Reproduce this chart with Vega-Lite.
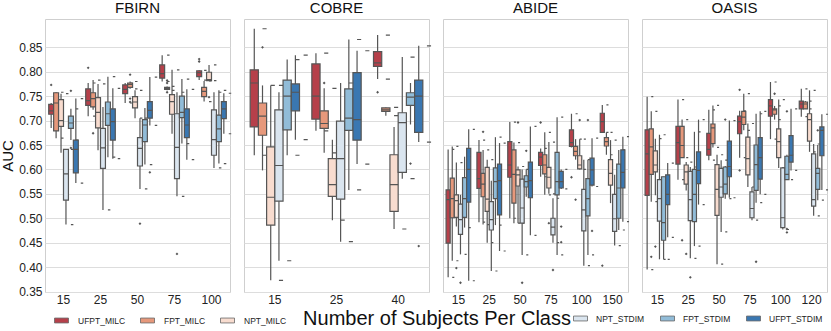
{
  "$schema": "https://vega.github.io/schema/vega-lite/v6.json",
  "padding": {"left": 0, "top": 1, "right": 0, "bottom": 0},
  "background": "white",
  "bounds": "flush",
  "config": {
    "font": "Liberation Sans",
    "view": {"stroke": "#cfcfcf", "strokeWidth": 1},
    "axis": {"labelFont": "Liberation Sans", "titleFont": "Liberation Sans", "labelColor": "#222222", "titleColor": "#111111"}
  },
  "data": {"values": [
    {"k":"b","d":"FBIRN","n":15,"m":"UFPT_MILC","lo":0.685,"q1":0.713,"md":0.72,"q3":0.733,"hi":0.736},
    {"k":"b","d":"FBIRN","n":15,"m":"FPT_MILC","lo":0.664,"q1":0.679,"md":0.736,"q3":0.757,"hi":0.758},
    {"k":"b","d":"FBIRN","n":15,"m":"NPT_MILC","lo":0.634,"q1":0.688,"md":0.70,"q3":0.743,"hi":0.755},
    {"k":"b","d":"FBIRN","n":15,"m":"NPT_STDIM","lo":0.487,"q1":0.537,"md":0.591,"q3":0.641,"hi":0.641},
    {"k":"b","d":"FBIRN","n":15,"m":"FPT_STDIM","lo":0.66,"q1":0.684,"md":0.695,"q3":0.709,"hi":0.724},
    {"k":"b","d":"FBIRN","n":15,"m":"UFPT_STDIM","lo":0.572,"q1":0.593,"md":0.641,"q3":0.66,"hi":0.745},
    {"k":"b","d":"FBIRN","n":25,"m":"UFPT_MILC","lo":0.709,"q1":0.731,"md":0.741,"q3":0.765,"hi":0.777},
    {"k":"b","d":"FBIRN","n":25,"m":"FPT_MILC","lo":0.722,"q1":0.728,"md":0.745,"q3":0.757,"hi":0.783},
    {"k":"b","d":"FBIRN","n":25,"m":"NPT_MILC","lo":0.639,"q1":0.685,"md":0.717,"q3":0.747,"hi":0.775},
    {"k":"b","d":"FBIRN","n":25,"m":"NPT_STDIM","lo":0.517,"q1":0.602,"md":0.644,"q3":0.684,"hi":0.728},
    {"k":"b","d":"FBIRN","n":25,"m":"FPT_STDIM","lo":0.625,"q1":0.69,"md":0.714,"q3":0.738,"hi":0.79},
    {"k":"b","d":"FBIRN","n":25,"m":"UFPT_STDIM","lo":0.622,"q1":0.66,"md":0.698,"q3":0.724,"hi":0.766},
    {"k":"b","d":"FBIRN","n":50,"m":"UFPT_MILC","lo":0.736,"q1":0.755,"md":0.764,"q3":0.773,"hi":0.777},
    {"k":"b","d":"FBIRN","n":50,"m":"FPT_MILC","lo":0.765,"q1":0.768,"md":0.774,"q3":0.777,"hi":0.78},
    {"k":"b","d":"FBIRN","n":50,"m":"NPT_MILC","lo":0.705,"q1":0.726,"md":0.738,"q3":0.749,"hi":0.762},
    {"k":"b","d":"FBIRN","n":50,"m":"NPT_STDIM","lo":0.56,"q1":0.607,"md":0.643,"q3":0.665,"hi":0.705},
    {"k":"b","d":"FBIRN","n":50,"m":"FPT_STDIM","lo":0.61,"q1":0.657,"md":0.691,"q3":0.702,"hi":0.726},
    {"k":"b","d":"FBIRN","n":50,"m":"UFPT_STDIM","lo":0.69,"q1":0.705,"md":0.721,"q3":0.739,"hi":0.789},
    {"k":"b","d":"FBIRN","n":75,"m":"UFPT_MILC","lo":0.78,"q1":0.787,"md":0.796,"q3":0.814,"hi":0.834},
    {"k":"b","d":"FBIRN","n":75,"m":"FPT_MILC","lo":0.762,"q1":0.764,"md":0.766,"q3":0.768,"hi":0.77},
    {"k":"b","d":"FBIRN","n":75,"m":"NPT_MILC","lo":0.673,"q1":0.713,"md":0.739,"q3":0.753,"hi":0.804},
    {"k":"b","d":"FBIRN","n":75,"m":"NPT_STDIM","lo":0.545,"q1":0.581,"md":0.645,"q3":0.714,"hi":0.758},
    {"k":"b","d":"FBIRN","n":75,"m":"FPT_STDIM","lo":0.653,"q1":0.706,"md":0.717,"q3":0.75,"hi":0.785},
    {"k":"b","d":"FBIRN","n":75,"m":"UFPT_STDIM","lo":0.62,"q1":0.665,"md":0.691,"q3":0.724,"hi":0.764},
    {"k":"b","d":"FBIRN","n":100,"m":"UFPT_MILC","lo":0.783,"q1":0.79,"md":0.798,"q3":0.802,"hi":0.803},
    {"k":"b","d":"FBIRN","n":100,"m":"FPT_MILC","lo":0.739,"q1":0.749,"md":0.76,"q3":0.768,"hi":0.781},
    {"k":"b","d":"FBIRN","n":100,"m":"NPT_MILC","lo":0.782,"q1":0.782,"md":0.784,"q3":0.799,"hi":0.814},
    {"k":"b","d":"FBIRN","n":100,"m":"NPT_STDIM","lo":0.603,"q1":0.629,"md":0.661,"q3":0.722,"hi":0.758},
    {"k":"b","d":"FBIRN","n":100,"m":"FPT_STDIM","lo":0.612,"q1":0.657,"md":0.683,"q3":0.711,"hi":0.762},
    {"k":"b","d":"FBIRN","n":100,"m":"UFPT_STDIM","lo":0.673,"q1":0.704,"md":0.724,"q3":0.739,"hi":0.756},

    {"k":"b","d":"COBRE","n":15,"m":"UFPT_MILC","lo":0.629,"q1":0.687,"md":0.777,"q3":0.804,"hi":0.888},
    {"k":"b","d":"COBRE","n":15,"m":"FPT_MILC","lo":0.598,"q1":0.67,"md":0.709,"q3":0.736,"hi":0.772},
    {"k":"b","d":"COBRE","n":15,"m":"NPT_MILC","lo":0.373,"q1":0.486,"md":0.543,"q3":0.646,"hi":0.772},
    {"k":"b","d":"COBRE","n":15,"m":"NPT_STDIM","lo":0.413,"q1":0.535,"md":0.608,"q3":0.722,"hi":0.758},
    {"k":"b","d":"COBRE","n":15,"m":"FPT_STDIM","lo":0.629,"q1":0.681,"md":0.75,"q3":0.783,"hi":0.825},
    {"k":"b","d":"COBRE","n":15,"m":"UFPT_STDIM","lo":0.661,"q1":0.72,"md":0.758,"q3":0.775,"hi":0.834},
    {"k":"b","d":"COBRE","n":25,"m":"UFPT_MILC","lo":0.679,"q1":0.703,"md":0.75,"q3":0.816,"hi":0.838},
    {"k":"b","d":"COBRE","n":25,"m":"FPT_MILC","lo":0.634,"q1":0.684,"md":0.694,"q3":0.72,"hi":0.766},
    {"k":"b","d":"COBRE","n":25,"m":"NPT_MILC","lo":0.496,"q1":0.545,"md":0.569,"q3":0.622,"hi":0.661},
    {"k":"b","d":"COBRE","n":25,"m":"NPT_STDIM","lo":0.452,"q1":0.539,"md":0.622,"q3":0.699,"hi":0.777},
    {"k":"b","d":"COBRE","n":25,"m":"FPT_STDIM","lo":0.558,"q1":0.68,"md":0.705,"q3":0.765,"hi":0.866},
    {"k":"b","d":"COBRE","n":25,"m":"UFPT_STDIM","lo":0.611,"q1":0.66,"md":0.702,"q3":0.798,"hi":0.843},
    {"k":"b","d":"COBRE","n":40,"m":"UFPT_MILC","lo":0.785,"q1":0.811,"md":0.818,"q3":0.841,"hi":0.875},
    {"k":"b","d":"COBRE","n":40,"m":"FPT_MILC","lo":0.71,"q1":0.719,"md":0.722,"q3":0.726,"hi":0.727},
    {"k":"b","d":"COBRE","n":40,"m":"NPT_MILC","lo":0.478,"q1":0.514,"md":0.569,"q3":0.63,"hi":0.687},
    {"k":"b","d":"COBRE","n":40,"m":"NPT_STDIM","lo":0.581,"q1":0.594,"md":0.696,"q3":0.716,"hi":0.83},
    {"k":"b","d":"COBRE","n":40,"m":"FPT_STDIM","lo":0.692,"q1":0.731,"md":0.748,"q3":0.757,"hi":0.777},
    {"k":"b","d":"COBRE","n":40,"m":"UFPT_STDIM","lo":0.656,"q1":0.676,"md":0.75,"q3":0.783,"hi":0.853},

    {"k":"b","d":"ABIDE","n":15,"m":"UFPT_MILC","lo":0.379,"q1":0.449,"md":0.538,"q3":0.558,"hi":0.641},
    {"k":"b","d":"ABIDE","n":15,"m":"FPT_MILC","lo":0.413,"q1":0.501,"md":0.54,"q3":0.582,"hi":0.647},
    {"k":"b","d":"ABIDE","n":15,"m":"NPT_MILC","lo":0.483,"q1":0.502,"md":0.536,"q3":0.548,"hi":0.614},
    {"k":"b","d":"ABIDE","n":15,"m":"NPT_STDIM","lo":0.426,"q1":0.467,"md":0.497,"q3":0.529,"hi":0.548},
    {"k":"b","d":"ABIDE","n":15,"m":"FPT_STDIM","lo":0.481,"q1":0.502,"md":0.54,"q3":0.583,"hi":0.626},
    {"k":"b","d":"ABIDE","n":15,"m":"UFPT_STDIM","lo":0.372,"q1":0.533,"md":0.6,"q3":0.643,"hi":0.682},
    {"k":"b","d":"ABIDE","n":25,"m":"UFPT_MILC","lo":0.492,"q1":0.561,"md":0.581,"q3":0.635,"hi":0.66},
    {"k":"b","d":"ABIDE","n":25,"m":"FPT_MILC","lo":0.487,"q1":0.544,"md":0.57,"q3":0.592,"hi":0.64},
    {"k":"b","d":"ABIDE","n":25,"m":"NPT_MILC","lo":0.45,"q1":0.514,"md":0.539,"q3":0.604,"hi":0.62},
    {"k":"b","d":"ABIDE","n":25,"m":"NPT_STDIM","lo":0.392,"q1":0.476,"md":0.497,"q3":0.534,"hi":0.577},
    {"k":"b","d":"ABIDE","n":25,"m":"FPT_STDIM","lo":0.486,"q1":0.54,"md":0.575,"q3":0.603,"hi":0.666},
    {"k":"b","d":"ABIDE","n":25,"m":"UFPT_STDIM","lo":0.433,"q1":0.507,"md":0.577,"q3":0.611,"hi":0.654},
    {"k":"b","d":"ABIDE","n":50,"m":"UFPT_MILC","lo":0.5,"q1":0.584,"md":0.609,"q3":0.657,"hi":0.697},
    {"k":"b","d":"ABIDE","n":50,"m":"FPT_MILC","lo":0.49,"q1":0.531,"md":0.59,"q3":0.64,"hi":0.655},
    {"k":"b","d":"ABIDE","n":50,"m":"NPT_MILC","lo":0.49,"q1":0.566,"md":0.589,"q3":0.599,"hi":0.606},
    {"k":"b","d":"ABIDE","n":50,"m":"NPT_STDIM","lo":0.425,"q1":0.49,"md":0.521,"q3":0.58,"hi":0.6},
    {"k":"b","d":"ABIDE","n":50,"m":"FPT_STDIM","lo":0.544,"q1":0.564,"md":0.575,"q3":0.587,"hi":0.6},
    {"k":"b","d":"ABIDE","n":50,"m":"UFPT_STDIM","lo":0.465,"q1":0.542,"md":0.577,"q3":0.615,"hi":0.688},
    {"k":"b","d":"ABIDE","n":75,"m":"UFPT_MILC","lo":0.585,"q1":0.608,"md":0.625,"q3":0.635,"hi":0.643},
    {"k":"b","d":"ABIDE","n":75,"m":"FPT_MILC","lo":0.548,"q1":0.591,"md":0.609,"q3":0.63,"hi":0.676},
    {"k":"b","d":"ABIDE","n":75,"m":"NPT_MILC","lo":0.55,"q1":0.562,"md":0.584,"q3":0.604,"hi":0.656},
    {"k":"b","d":"ABIDE","n":75,"m":"NPT_STDIM","lo":0.45,"q1":0.466,"md":0.482,"q3":0.5,"hi":0.541},
    {"k":"b","d":"ABIDE","n":75,"m":"FPT_STDIM","lo":0.425,"q1":0.548,"md":0.575,"q3":0.635,"hi":0.707},
    {"k":"b","d":"ABIDE","n":75,"m":"UFPT_STDIM","lo":0.56,"q1":0.562,"md":0.575,"q3":0.596,"hi":0.6},
    {"k":"b","d":"ABIDE","n":100,"m":"UFPT_MILC","lo":0.645,"q1":0.647,"md":0.655,"q3":0.681,"hi":0.714},
    {"k":"b","d":"ABIDE","n":100,"m":"FPT_MILC","lo":0.62,"q1":0.628,"md":0.637,"q3":0.647,"hi":0.662},
    {"k":"b","d":"ABIDE","n":100,"m":"NPT_MILC","lo":0.6,"q1":0.601,"md":0.609,"q3":0.628,"hi":0.662},
    {"k":"b","d":"ABIDE","n":100,"m":"NPT_STDIM","lo":0.403,"q1":0.474,"md":0.517,"q3":0.559,"hi":0.62},
    {"k":"b","d":"ABIDE","n":100,"m":"FPT_STDIM","lo":0.425,"q1":0.505,"md":0.54,"q3":0.581,"hi":0.62},
    {"k":"b","d":"ABIDE","n":100,"m":"UFPT_STDIM","lo":0.565,"q1":0.568,"md":0.599,"q3":0.623,"hi":0.664},
    {"k":"b","d":"ABIDE","n":150,"m":"UFPT_MILC","lo":0.676,"q1":0.676,"md":0.698,"q3":0.715,"hi":0.732},
    {"k":"b","d":"ABIDE","n":150,"m":"FPT_MILC","lo":0.63,"q1":0.648,"md":0.657,"q3":0.665,"hi":0.676},
    {"k":"b","d":"ABIDE","n":150,"m":"NPT_MILC","lo":0.531,"q1":0.568,"md":0.592,"q3":0.62,"hi":0.66},
    {"k":"b","d":"ABIDE","n":150,"m":"NPT_STDIM","lo":0.444,"q1":0.473,"md":0.499,"q3":0.549,"hi":0.589},
    {"k":"b","d":"ABIDE","n":150,"m":"FPT_STDIM","lo":0.476,"q1":0.5,"md":0.562,"q3":0.611,"hi":0.64},
    {"k":"b","d":"ABIDE","n":150,"m":"UFPT_STDIM","lo":0.493,"q1":0.562,"md":0.594,"q3":0.64,"hi":0.667},

    {"k":"b","d":"OASIS","n":15,"m":"UFPT_MILC","lo":0.395,"q1":0.547,"md":0.632,"q3":0.681,"hi":0.749},
    {"k":"b","d":"OASIS","n":15,"m":"FPT_MILC","lo":0.534,"q1":0.59,"md":0.646,"q3":0.683,"hi":0.719},
    {"k":"b","d":"OASIS","n":15,"m":"NPT_MILC","lo":0.547,"q1":0.595,"md":0.609,"q3":0.638,"hi":0.663},
    {"k":"b","d":"OASIS","n":15,"m":"NPT_STDIM","lo":0.416,"q1":0.494,"md":0.54,"q3":0.579,"hi":0.671},
    {"k":"b","d":"OASIS","n":15,"m":"FPT_STDIM","lo":0.416,"q1":0.455,"md":0.491,"q3":0.585,"hi":0.585},
    {"k":"b","d":"OASIS","n":15,"m":"UFPT_STDIM","lo":0.461,"q1":0.528,"md":0.549,"q3":0.589,"hi":0.613},
    {"k":"b","d":"OASIS","n":25,"m":"UFPT_MILC","lo":0.579,"q1":0.611,"md":0.655,"q3":0.688,"hi":0.743},
    {"k":"b","d":"OASIS","n":25,"m":"FPT_MILC","lo":0.624,"q1":0.624,"md":0.649,"q3":0.688,"hi":0.702},
    {"k":"b","d":"OASIS","n":25,"m":"NPT_MILC","lo":0.557,"q1":0.57,"md":0.595,"q3":0.609,"hi":0.615},
    {"k":"b","d":"OASIS","n":25,"m":"NPT_STDIM","lo":0.418,"q1":0.495,"md":0.538,"q3":0.596,"hi":0.605},
    {"k":"b","d":"OASIS","n":25,"m":"FPT_STDIM","lo":0.443,"q1":0.493,"md":0.549,"q3":0.6,"hi":0.677},
    {"k":"b","d":"OASIS","n":25,"m":"UFPT_STDIM","lo":0.528,"q1":0.571,"md":0.598,"q3":0.636,"hi":0.702},
    {"k":"b","d":"OASIS","n":50,"m":"UFPT_MILC","lo":0.619,"q1":0.629,"md":0.641,"q3":0.674,"hi":0.722},
    {"k":"b","d":"OASIS","n":50,"m":"FPT_MILC","lo":0.645,"q1":0.653,"md":0.685,"q3":0.693,"hi":0.731},
    {"k":"b","d":"OASIS","n":50,"m":"NPT_MILC","lo":0.406,"q1":0.506,"md":0.559,"q3":0.61,"hi":0.63},
    {"k":"b","d":"OASIS","n":50,"m":"NPT_STDIM","lo":0.472,"q1":0.543,"md":0.564,"q3":0.602,"hi":0.619},
    {"k":"b","d":"OASIS","n":50,"m":"FPT_STDIM","lo":0.54,"q1":0.55,"md":0.57,"q3":0.605,"hi":0.607},
    {"k":"b","d":"OASIS","n":50,"m":"UFPT_STDIM","lo":0.542,"q1":0.585,"md":0.606,"q3":0.658,"hi":0.7},
    {"k":"b","d":"OASIS","n":75,"m":"UFPT_MILC","lo":0.624,"q1":0.673,"md":0.698,"q3":0.709,"hi":0.72},
    {"k":"b","d":"OASIS","n":75,"m":"FPT_MILC","lo":0.68,"q1":0.692,"md":0.707,"q3":0.719,"hi":0.755},
    {"k":"b","d":"OASIS","n":75,"m":"NPT_MILC","lo":0.564,"q1":0.589,"md":0.622,"q3":0.666,"hi":0.694},
    {"k":"b","d":"OASIS","n":75,"m":"NPT_STDIM","lo":0.496,"q1":0.501,"md":0.52,"q3":0.554,"hi":0.564},
    {"k":"b","d":"OASIS","n":75,"m":"FPT_STDIM","lo":0.532,"q1":0.557,"md":0.61,"q3":0.65,"hi":0.714},
    {"k":"b","d":"OASIS","n":75,"m":"UFPT_STDIM","lo":0.549,"q1":0.58,"md":0.624,"q3":0.665,"hi":0.719},
    {"k":"b","d":"OASIS","n":100,"m":"UFPT_MILC","lo":0.662,"q1":0.709,"md":0.73,"q3":0.743,"hi":0.779},
    {"k":"b","d":"OASIS","n":100,"m":"FPT_MILC","lo":0.702,"q1":0.713,"md":0.722,"q3":0.724,"hi":0.73},
    {"k":"b","d":"OASIS","n":100,"m":"NPT_MILC","lo":0.603,"q1":0.624,"md":0.657,"q3":0.683,"hi":0.743},
    {"k":"b","d":"OASIS","n":100,"m":"NPT_STDIM","lo":0.477,"q1":0.481,"md":0.501,"q3":0.603,"hi":0.605},
    {"k":"b","d":"OASIS","n":100,"m":"FPT_STDIM","lo":0.579,"q1":0.579,"md":0.59,"q3":0.627,"hi":0.63},
    {"k":"b","d":"OASIS","n":100,"m":"UFPT_STDIM","lo":0.598,"q1":0.615,"md":0.629,"q3":0.669,"hi":0.724},
    {"k":"b","d":"OASIS","n":120,"m":"UFPT_MILC","lo":0.708,"q1":0.724,"md":0.734,"q3":0.74,"hi":0.765},
    {"k":"b","d":"OASIS","n":120,"m":"FPT_MILC","lo":0.724,"q1":0.724,"md":0.734,"q3":0.738,"hi":0.74},
    {"k":"b","d":"OASIS","n":120,"m":"NPT_MILC","lo":0.636,"q1":0.658,"md":0.702,"q3":0.714,"hi":0.762},
    {"k":"b","d":"OASIS","n":120,"m":"NPT_STDIM","lo":0.505,"q1":0.525,"md":0.538,"q3":0.632,"hi":0.652},
    {"k":"b","d":"OASIS","n":120,"m":"FPT_STDIM","lo":0.537,"q1":0.559,"md":0.592,"q3":0.602,"hi":0.65},
    {"k":"b","d":"OASIS","n":120,"m":"UFPT_STDIM","lo":0.558,"q1":0.628,"md":0.68,"q3":0.687,"hi":0.713},

    {"k":"o","d":"FBIRN","n":15,"m":"UFPT_MILC","v":0.773},
    {"k":"o","d":"FBIRN","n":15,"m":"FPT_STDIM","v":0.761},
    {"k":"o","d":"FBIRN","n":15,"m":"FPT_STDIM","v":0.644},
    {"k":"o","d":"FBIRN","n":25,"m":"UFPT_MILC","v":0.808},
    {"k":"o","d":"FBIRN","n":25,"m":"FPT_MILC","v":0.674},
    {"k":"o","d":"FBIRN","n":50,"m":"FPT_MILC","v":0.794},
    {"k":"o","d":"FBIRN","n":50,"m":"FPT_MILC","v":0.745},
    {"k":"o","d":"FBIRN","n":50,"m":"FPT_MILC","v":0.738},
    {"k":"o","d":"FBIRN","n":50,"m":"NPT_STDIM","v":0.489},
    {"k":"o","d":"FBIRN","n":50,"m":"UFPT_STDIM","v":0.594},
    {"k":"o","d":"FBIRN","n":75,"m":"FPT_MILC","v":0.782},
    {"k":"o","d":"FBIRN","n":75,"m":"FPT_MILC","v":0.777},
    {"k":"o","d":"FBIRN","n":75,"m":"FPT_MILC","v":0.758},
    {"k":"o","d":"FBIRN","n":75,"m":"NPT_STDIM","v":0.427},
    {"k":"o","d":"FBIRN","n":100,"m":"UFPT_MILC","v":0.826},
    {"k":"o","d":"FBIRN","n":100,"m":"UFPT_MILC","v":0.821},
    {"k":"o","d":"FBIRN","n":100,"m":"NPT_MILC","v":0.748},
    {"k":"o","d":"COBRE","n":15,"m":"FPT_MILC","v":0.85},
    {"k":"o","d":"COBRE","n":25,"m":"FPT_MILC","v":0.777},
    {"k":"o","d":"COBRE","n":40,"m":"UFPT_MILC","v":0.758},
    {"k":"o","d":"COBRE","n":40,"m":"FPT_STDIM","v":0.612},
    {"k":"o","d":"COBRE","n":40,"m":"UFPT_STDIM","v":0.443},
    {"k":"o","d":"ABIDE","n":15,"m":"NPT_MILC","v":0.398},
    {"k":"o","d":"ABIDE","n":15,"m":"NPT_STDIM","v":0.368},
    {"k":"o","d":"ABIDE","n":25,"m":"FPT_MILC","v":0.677},
    {"k":"o","d":"ABIDE","n":50,"m":"NPT_MILC","v":0.696},
    {"k":"o","d":"ABIDE","n":50,"m":"FPT_STDIM","v":0.638},
    {"k":"o","d":"ABIDE","n":50,"m":"NPT_STDIM","v":0.368},
    {"k":"o","d":"ABIDE","n":75,"m":"UFPT_MILC","v":0.696},
    {"k":"o","d":"ABIDE","n":75,"m":"NPT_MILC","v":0.49},
    {"k":"o","d":"ABIDE","n":75,"m":"NPT_STDIM","v":0.394},
    {"k":"o","d":"ABIDE","n":75,"m":"UFPT_STDIM","v":0.483},
    {"k":"o","d":"ABIDE","n":75,"m":"UFPT_STDIM","v":0.451},
    {"k":"o","d":"ABIDE","n":100,"m":"UFPT_MILC","v":0.584},
    {"k":"o","d":"ABIDE","n":100,"m":"FPT_MILC","v":0.538},
    {"k":"o","d":"ABIDE","n":100,"m":"NPT_MILC","v":0.701},
    {"k":"o","d":"ABIDE","n":100,"m":"FPT_STDIM","v":0.701},
    {"k":"o","d":"ABIDE","n":100,"m":"UFPT_STDIM","v":0.474},
    {"k":"o","d":"ABIDE","n":150,"m":"UFPT_MILC","v":0.403},
    {"k":"o","d":"OASIS","n":15,"m":"FPT_MILC","v":0.421},
    {"k":"o","d":"OASIS","n":15,"m":"NPT_MILC","v":0.442},
    {"k":"o","d":"OASIS","n":25,"m":"FPT_MILC","v":0.455},
    {"k":"o","d":"OASIS","n":25,"m":"NPT_MILC","v":0.427},
    {"k":"o","d":"OASIS","n":25,"m":"NPT_STDIM","v":0.379},
    {"k":"o","d":"OASIS","n":50,"m":"FPT_STDIM","v":0.702},
    {"k":"o","d":"OASIS","n":75,"m":"UFPT_MILC","v":0.763},
    {"k":"o","d":"OASIS","n":75,"m":"UFPT_MILC","v":0.598},
    {"k":"o","d":"OASIS","n":75,"m":"FPT_STDIM","v":0.411},
    {"k":"o","d":"OASIS","n":100,"m":"FPT_MILC","v":0.755},
    {"k":"o","d":"OASIS","n":100,"m":"FPT_STDIM","v":0.719},
    {"k":"o","d":"OASIS","n":100,"m":"FPT_STDIM","v":0.478},
    {"k":"o","d":"OASIS","n":100,"m":"FPT_STDIM","v":0.471},
    {"k":"o","d":"OASIS","n":120,"m":"FPT_STDIM","v":0.68}
  ]},
  "facet": {
    "column": {
      "field": "d", "type": "nominal",
      "sort": ["FBIRN", "COBRE", "ABIDE", "OASIS"],
      "header": {
        "title": "Number of Subjects Per Class",
        "titleOrient": "bottom",
        "titleFont": "Liberation Sans",
        "titleFontSize": 20,
        "titleFontWeight": "normal",
        "titleColor": "#111111",
        "titlePadding": 7,
        "labelOrient": "top",
        "labelFont": "Liberation Sans",
        "labelFontSize": 15,
        "labelColor": "#111111",
        "labelPadding": 3
      }
    }
  },
  "spacing": 14,
  "resolve": {"scale": {"x": "independent", "xOffset": "independent"}},
  "spec": {
    "width": 185,
    "height": 273,
    "encoding": {
      "x": {
        "field": "n", "type": "ordinal",
        "scale": {"paddingInner": 0.2, "paddingOuter": 0.1},
        "axis": {"title": null, "labelAngle": 0, "labelFontSize": 12, "ticks": false, "domain": false, "grid": false, "labelPadding": 2}
      },
      "xOffset": {
        "field": "m", "type": "nominal",
        "scale": {"domain": ["UFPT_MILC", "FPT_MILC", "NPT_MILC", "NPT_STDIM", "FPT_STDIM", "UFPT_STDIM"], "paddingInner": 0, "paddingOuter": 0}
      }
    },
    "layer": [
      {
        "transform": [{"filter": "datum.k == 'b'"}],
        "mark": {"type": "rule", "color": "#555555", "strokeWidth": 1.2},
        "encoding": {
          "y": {
            "field": "lo", "type": "quantitative",
            "scale": {"domain": [0.349, 0.908], "nice": false, "zero": false},
            "axis": {
              "title": "AUC", "titleFontSize": 15, "titleFontWeight": "normal", "titlePadding": 3,
              "values": [0.35, 0.4, 0.45, 0.5, 0.55, 0.6, 0.65, 0.7, 0.75, 0.8, 0.85],
              "tickCount": 12,
              "format": ".2f", "labelFontSize": 12, "labelOverlap": false, "ticks": false, "domain": false,
              "grid": true, "gridColor": "#dddddd", "gridWidth": 1, "labelPadding": 3
            }
          },
          "y2": {"field": "hi"}
        }
      },
      {
        "transform": [{"filter": "datum.k == 'b'"}],
        "mark": {"type": "bar", "width": {"band": 0.5}, "fillOpacity": 0, "stroke": "#555555", "strokeWidth": 1.2},
        "encoding": {"y": {"field": "lo", "type": "quantitative"}, "y2": {"field": "lo"}}
      },
      {
        "transform": [{"filter": "datum.k == 'b'"}],
        "mark": {"type": "bar", "width": {"band": 0.5}, "fillOpacity": 0, "stroke": "#555555", "strokeWidth": 1.2},
        "encoding": {"y": {"field": "hi", "type": "quantitative"}, "y2": {"field": "hi"}}
      },
      {
        "transform": [{"filter": "datum.k == 'b' && indexof(datum.m, 'MILC') >= 0"}],
        "mark": {"type": "bar", "stroke": "#555555", "strokeWidth": 1.2},
        "encoding": {
          "y": {"field": "q1", "type": "quantitative"},
          "y2": {"field": "q3"},
          "fill": {
            "field": "m", "type": "nominal",
            "scale": {"domain": ["UFPT_MILC", "FPT_MILC", "NPT_MILC"], "range": ["#b6404a", "#e6987b", "#f8dccf"]},
            "legend": {
              "title": null, "orient": "none", "direction": "horizontal", "legendX": 9, "legendY": 294,
              "symbolType": "M-1,-0.35H1V0.35H-1Z", "symbolSize": 196, "symbolStrokeColor": "#666666", "symbolStrokeWidth": 0.8,
              "labelFont": "Liberation Sans", "labelFontSize": 8.5, "labelColor": "#222222", "labelOffset": 9, "columnPadding": 12
            }
          }
        }
      },
      {
        "transform": [{"filter": "datum.k == 'b' && indexof(datum.m, 'STDIM') >= 0"}],
        "mark": {"type": "bar", "stroke": "#555555", "strokeWidth": 1.2},
        "encoding": {
          "y": {"field": "q1", "type": "quantitative"},
          "y2": {"field": "q3"},
          "color": {
            "field": "m", "type": "nominal",
            "scale": {"domain": ["NPT_STDIM", "FPT_STDIM", "UFPT_STDIM"], "range": ["#dae5ef", "#91bcd8", "#3a77b1"]},
            "legend": {
              "title": null, "orient": "none", "direction": "horizontal", "legendX": 528, "legendY": 292,
              "symbolType": "M-1,-0.35H1V0.35H-1Z", "symbolSize": 196, "symbolStrokeColor": "#666666", "symbolStrokeWidth": 0.8,
              "labelFont": "Liberation Sans", "labelFontSize": 8.5, "labelColor": "#222222", "labelOffset": 8, "columnPadding": 13
            }
          }
        }
      },
      {
        "transform": [{"filter": "datum.k == 'b'"}],
        "mark": {"type": "bar", "fillOpacity": 0, "stroke": "#555555", "strokeWidth": 1.2},
        "encoding": {"y": {"field": "md", "type": "quantitative"}, "y2": {"field": "md"}}
      },
      {
        "transform": [{"filter": "datum.k == 'o'"}],
        "mark": {"type": "point", "shape": "diamond", "filled": true, "color": "#555555", "size": 8, "opacity": 1},
        "encoding": {"y": {"field": "v", "type": "quantitative"}}
      }
    ]
  }
}
